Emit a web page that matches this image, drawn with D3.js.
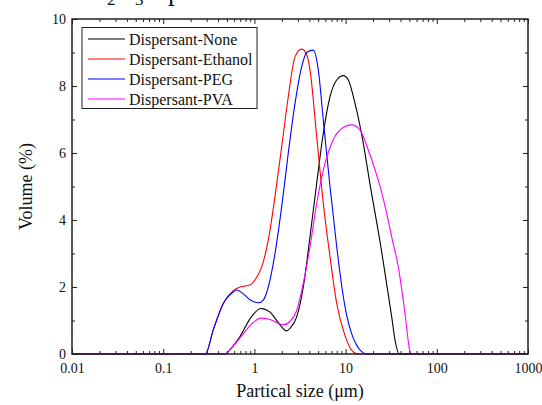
<!DOCTYPE html>
<html>
<head>
<meta charset="utf-8">
<script src="https://cdn.jsdelivr.net/npm/d3@7/dist/d3.min.js"></script>
<style>
  body { margin: 0; background: #fff; }
  text { font-family: "Liberation Serif", "Times New Roman", serif; fill: #111; }
</style>
</head>
<body>
<svg id="chart"></svg>
<script>
// particle size (um) / volume (%)
const sizeNone = [0.01, 0.476, 0.568, 0.695, 0.895, 1.181, 1.483, 1.815, 2.261, 2.457, 2.91, 3.437, 4.07, 4.822, 5.695, 6.745, 7.99, 9.44, 10.71, 12.68, 15.64, 18.19, 24.88, 32.03, 34.81, 38.8, 1000];
const volNone  = [0, 0, 0.2, 0.52, 1.05, 1.36, 1.25, 0.95, 0.69, 0.77, 1.11, 2.0, 3.5, 5.1, 6.59, 7.68, 8.18, 8.31, 8.18, 7.48, 6.29, 5.2, 3.05, 1.11, 0.42, 0, 0];

const sizeEthanol = [0.01, 0.29, 0.354, 0.456, 0.587, 0.695, 0.895, 1.015, 1.202, 1.42, 1.682, 1.992, 2.353, 2.788, 3.301, 3.745, 4.07, 4.822, 5.695, 6.745, 7.99, 9.85, 12.14, 14, 1000];
const volEthanol  = [0, 0, 0.72, 1.51, 1.89, 2.0, 2.06, 2.21, 2.6, 3.4, 4.7, 6.19, 7.68, 8.87, 9.1, 8.93, 8.48, 6.49, 4.5, 2.9, 1.51, 0.55, 0.06, 0, 0];

const sizePEG = [0.01, 0.29, 0.354, 0.456, 0.587, 0.64, 0.789, 0.895, 1.104, 1.252, 1.42, 1.682, 1.992, 2.353, 2.788, 3.301, 3.745, 4.424, 5.019, 5.695, 6.745, 7.99, 9.44, 10.28, 11.67, 13.3, 15.02, 17.17, 1000];
const volPEG  = [0, 0, 0.72, 1.51, 1.85, 1.91, 1.75, 1.62, 1.53, 1.61, 2.0, 3.0, 4.4, 6.0, 7.48, 8.58, 9.0, 9.07, 8.48, 6.98, 5.0, 3.2, 1.71, 1.15, 0.6, 0.25, 0.07, 0, 0];

const sizePVA = [0.01, 0.476, 0.568, 0.695, 0.895, 1.181, 1.483, 1.815, 2.075, 2.457, 2.91, 3.437, 4.07, 4.822, 5.695, 7.04, 8.683, 11.67, 14.38, 17.74, 21.01, 24.44, 28.23, 32.27, 37.84, 44.81, 50.84, 52.14, 1000];
const volPVA  = [0, 0, 0.2, 0.48, 0.85, 1.07, 1.03, 0.92, 0.87, 0.97, 1.3, 2.11, 3.2, 4.5, 5.49, 6.29, 6.69, 6.84, 6.69, 6.09, 5.5, 4.9, 4.2, 3.45, 2.6, 1.21, 0.07, 0, 0];

const seriesNames  = ["Dispersant-None", "Dispersant-Ethanol", "Dispersant-PEG", "Dispersant-PVA"];
const seriesColors = ["#000000", "#ff0000", "#0000ff", "#ff00ff"];
const seriesSizes  = [sizeNone, sizeEthanol, sizePEG, sizePVA];
const seriesVols   = [volNone, volEthanol, volPEG, volPVA];

const xMajor = [0.01, 0.1, 1, 10, 100, 1000];
const xLabels = ["0.01", "0.1", "1", "10", "100", "1000"];
const yMajor = [0, 2, 4, 6, 8, 10];
const yMinor = [1, 3, 5, 7, 9];

const width = 542, height = 405;
const margin = { top: 19, right: 14, bottom: 51, left: 72 };

const svg = d3.select("#chart").attr("width", width).attr("height", height);

const x = d3.scaleLog().domain([0.01, 1000]).range([margin.left, width - margin.right]);
const y = d3.scaleLinear().domain([0, 10]).range([height - margin.bottom, margin.top]);

const xMinor = x.ticks().filter(v => !xMajor.some(m => Math.abs(m - v) / m < 1e-6));

// caption of the figure above, mostly cut off by the page edge
svg.append("text").attr("x", 76).attr("y", -0.5).attr("font-size", 27)
  .attr("text-anchor", "end").text("of");
const cap = svg.append("text").attr("x", 80).attr("y", -0.5).attr("font-size", 27);
cap.append("tspan").text("Al");
cap.append("tspan").attr("dy", 5.5).attr("font-size", 17).text("2");
cap.append("tspan").attr("dy", -5.5).text("O");
cap.append("tspan").attr("dy", 5.5).attr("font-size", 17).text("3");
svg.append("text").attr("x", 168).attr("y", -0.5).attr("font-size", 27)
  .text("particles.");

// curves
const line = d3.line()
  .x(d => x(d[0]))
  .y(d => y(d[1]))
  .curve(d3.curveMonotoneX);

seriesNames.forEach((name, i) => {
  const pts = seriesSizes[i].map((s, j) => [s, seriesVols[i][j]]);
  svg.append("path")
    .datum(pts)
    .attr("fill", "none")
    .attr("stroke", seriesColors[i])
    .attr("stroke-width", 1.1)
    .attr("d", line);
});

// axes, ticks pointing inward on all four sides
const axisCol = "#222";
function styleAxis(g) {
  g.selectAll(".domain").remove();
  g.selectAll("line").attr("stroke", axisCol).attr("stroke-width", 1);
  g.selectAll("text").attr("font-size", 14).attr("fill", "#111")
    .style("font-family", "'Liberation Serif', 'Times New Roman', serif");
}

const yb = height - margin.bottom, yt = margin.top;
const xl = margin.left, xr = width - margin.right;

svg.append("g").attr("transform", `translate(0,${yb})`)
  .call(d3.axisBottom(x).tickValues(xMajor).tickSize(-5).tickPadding(9).tickFormat((d, i) => xLabels[i]))
  .call(styleAxis);
svg.append("g").attr("transform", `translate(0,${yb})`)
  .call(d3.axisBottom(x).tickValues(xMinor).tickSize(-3).tickFormat(""))
  .call(styleAxis);
svg.append("g").attr("transform", `translate(0,${yt})`)
  .call(d3.axisTop(x).tickValues(xMajor).tickSize(-5).tickFormat(""))
  .call(styleAxis);
svg.append("g").attr("transform", `translate(0,${yt})`)
  .call(d3.axisTop(x).tickValues(xMinor).tickSize(-3).tickFormat(""))
  .call(styleAxis);

svg.append("g").attr("transform", `translate(${xl},0)`)
  .call(d3.axisLeft(y).tickValues(yMajor).tickSize(-5).tickPadding(6))
  .call(styleAxis);
svg.append("g").attr("transform", `translate(${xl},0)`)
  .call(d3.axisLeft(y).tickValues(yMinor).tickSize(-3).tickFormat(""))
  .call(styleAxis);
svg.append("g").attr("transform", `translate(${xr},0)`)
  .call(d3.axisRight(y).tickValues(yMajor).tickSize(-5).tickFormat(""))
  .call(styleAxis);
svg.append("g").attr("transform", `translate(${xr},0)`)
  .call(d3.axisRight(y).tickValues(yMinor).tickSize(-3).tickFormat(""))
  .call(styleAxis);

// frame
svg.append("rect")
  .attr("x", xl).attr("y", yt)
  .attr("width", xr - xl).attr("height", yb - yt)
  .attr("fill", "none").attr("stroke", axisCol).attr("stroke-width", 1.5);

// axis titles
svg.append("text")
  .attr("x", (xl + xr) / 2).attr("y", 397)
  .attr("text-anchor", "middle").attr("font-size", 18)
  .text("Partical size (μm)");
svg.append("text")
  .attr("transform", `translate(32,${(yt + yb) / 2}) rotate(-90)`)
  .attr("text-anchor", "middle").attr("font-size", 18)
  .text("Volume (%)");

// legend
const legend = svg.append("g");
legend.append("rect")
  .attr("x", 82).attr("y", 27.5).attr("width", 175).attr("height", 81)
  .attr("fill", "#fff").attr("stroke", axisCol).attr("stroke-width", 1);
seriesNames.forEach((name, i) => {
  const ry = 39 + i * 20;
  legend.append("line")
    .attr("x1", 88).attr("x2", 125).attr("y1", ry).attr("y2", ry)
    .attr("stroke", seriesColors[i]).attr("stroke-width", 1.2);
  legend.append("text")
    .attr("x", 129).attr("y", ry + 6).attr("font-size", 16)
    .text(name);
});
</script>
</body>
</html>
